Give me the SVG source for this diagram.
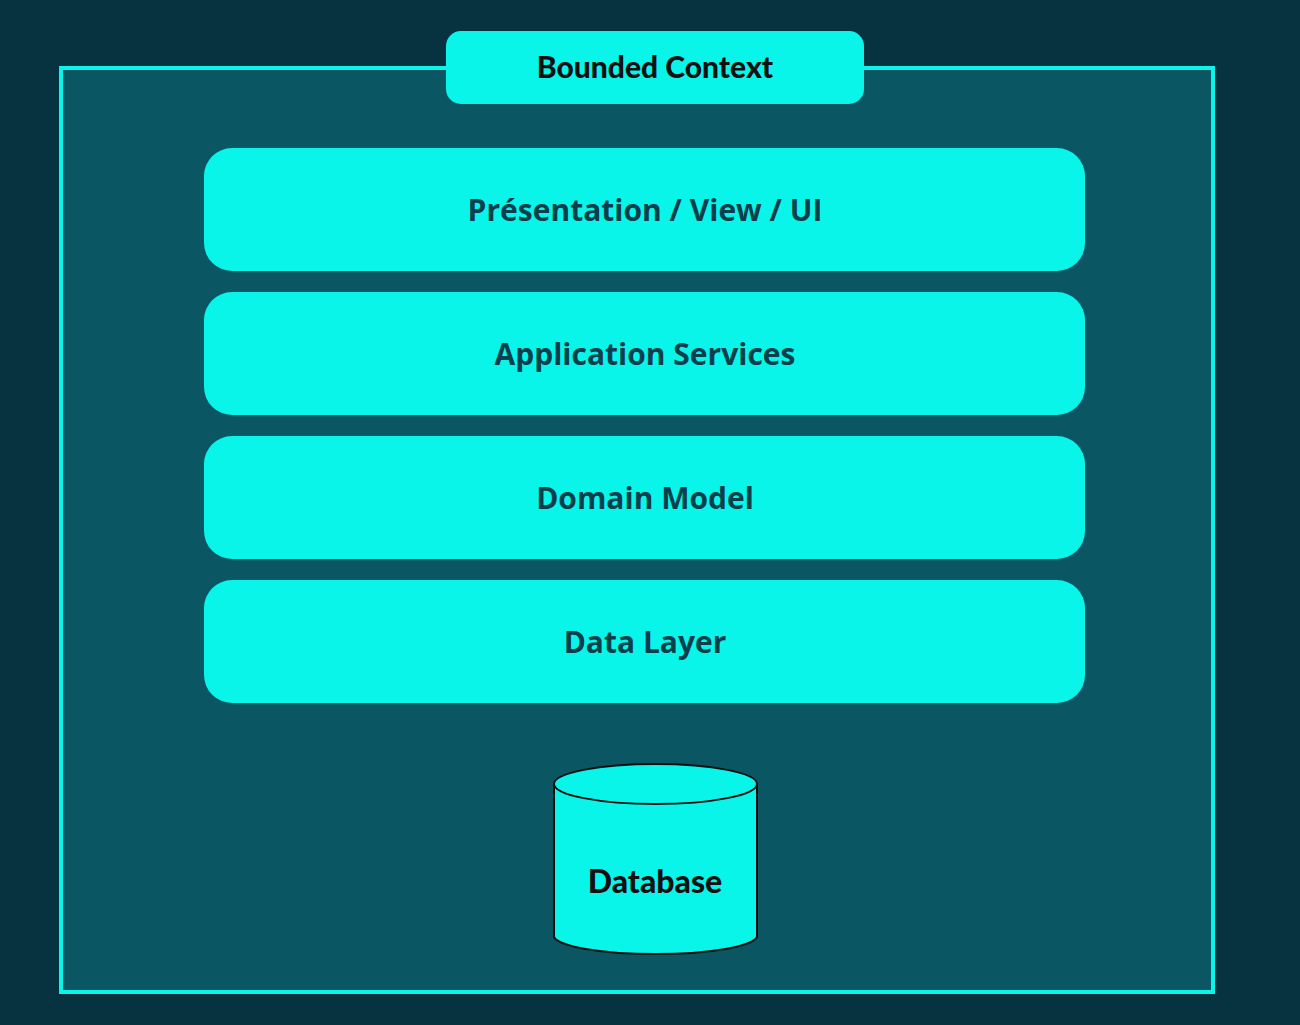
<svg xmlns="http://www.w3.org/2000/svg" width="1300" height="1025" viewBox="0 0 1300 1025">
<style>
.layer{fill:#0af5ea}
.ltxt{font-family:"Open Sans","Noto Sans",sans-serif;font-weight:700;font-size:30px;fill:#0b3f4b;text-anchor:middle}
.btxt{font-family:"Lato","Inter",sans-serif;font-weight:900;font-size:30px;fill:#111;text-anchor:middle}
</style>
<rect x="0" y="0" width="1300" height="1025" fill="#06333f"/>
<g id="bounded-context">
<rect x="61" y="68" width="1152" height="924" fill="#0a5763" stroke="#0af5ea" stroke-width="4"/>
<rect x="446" y="31" width="418" height="73" rx="15" class="layer"/>
<text x="655" y="78" class="btxt">Bounded Context</text>
</g>
<g id="presentation">
<rect x="204" y="148" width="881" height="123" rx="28" class="layer"/>
<text x="645" y="221" class="ltxt">Présentation / View / UI</text>
</g>
<g id="application">
<rect x="204" y="292" width="881" height="123" rx="28" class="layer"/>
<text x="645" y="365" class="ltxt">Application Services</text>
</g>
<g id="domain">
<rect x="204" y="436" width="881" height="123" rx="28" class="layer"/>
<text x="645" y="509" class="ltxt">Domain Model</text>
</g>
<g id="data-layer">
<rect x="204" y="580" width="881" height="123" rx="28" class="layer"/>
<text x="645" y="653" class="ltxt">Data Layer</text>
</g>
<g id="database">
<path d="M554 784 L554 937 A102 19 0 0 0 757 937 L757 784" fill="#0af5ea" stroke="#111" stroke-width="2"/>
<ellipse cx="655.5" cy="784" rx="101.5" ry="20" fill="#0af5ea" stroke="#111" stroke-width="2"/>
<text x="655" y="893" class="btxt" style="font-size:32px">Database</text>
</g>
<g id="connectors"></g>
</svg>
